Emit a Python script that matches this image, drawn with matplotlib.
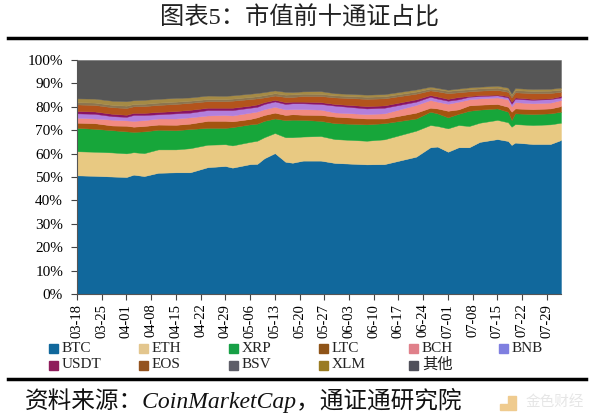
import numpy as np
import matplotlib

matplotlib.use("Agg")
import matplotlib.pyplot as plt
from matplotlib.lines import Line2D
from matplotlib.patches import Rectangle

plt.rcParams["font.family"] = ["Liberation Serif", "Noto Sans CJK SC"]

tick_labels = ["03-18", "03-25", "04-01", "04-08", "04-15", "04-22", "04-29",
               "05-06", "05-13", "05-20", "05-27", "06-03", "06-10", "06-17",
               "06-24", "07-01", "07-08", "07-15", "07-22", "07-29"]

# days since 03-18
days = [0, 5, 10, 14, 16, 19, 23, 28, 32, 37, 42, 44, 49, 51, 53, 56, 59, 61, 64,
        69, 73, 82, 87, 96, 100, 102, 105, 108, 111, 114, 119, 122, 123, 124, 129, 134, 137]

# top edge of each band in %
btc = [50.7, 50.5, 50.2, 50.0, 51.0, 50.4, 51.8, 52.0, 52.0, 54.2, 54.7, 54.0, 55.5, 55.6, 58.0, 60.2, 56.5, 56.1, 57.0,
       57.0, 56.0, 55.4, 55.5, 58.7, 62.7, 63.0, 60.8, 62.7, 62.7, 65.0, 66.2, 65.4, 63.7, 64.7, 64.1, 64.1, 65.8]
eth = [61.0, 60.8, 60.5, 60.1, 60.6, 60.2, 61.8, 61.8, 62.3, 63.8, 64.0, 63.5, 65.0, 65.5, 67.0, 68.8, 67.0, 67.0, 67.3,
       67.5, 66.2, 65.5, 66.1, 69.8, 72.2, 71.8, 70.8, 72.2, 71.8, 73.2, 74.4, 73.4, 71.5, 72.6, 72.2, 72.5, 73.2]
xrp = [71.0, 70.6, 70.0, 69.5, 69.3, 69.5, 70.2, 70.0, 70.5, 71.0, 71.0, 71.3, 72.5, 72.8, 74.0, 75.0, 74.3, 74.5, 74.4,
       74.0, 73.0, 72.5, 73.0, 75.0, 77.9, 77.2, 75.5, 77.0, 78.3, 78.8, 79.3, 77.9, 74.4, 77.2, 76.9, 77.2, 77.9]
ltc = [73.2, 73.0, 72.0, 71.9, 71.5, 71.8, 72.4, 72.3, 72.8, 74.0, 74.0, 73.8, 74.8, 75.5, 76.5, 77.5, 76.5, 76.8, 76.6,
       76.5, 75.8, 75.0, 75.0, 77.5, 79.6, 79.3, 78.3, 78.9, 80.6, 80.9, 81.2, 80.0, 77.9, 79.3, 79.0, 79.3, 80.3]
bch = [75.3, 75.0, 74.5, 74.2, 74.0, 74.3, 75.0, 75.0, 75.5, 76.3, 76.5, 76.3, 77.5, 78.0, 79.0, 80.0, 78.9, 79.0, 79.0,
       78.8, 77.6, 76.9, 77.2, 80.8, 82.9, 82.2, 81.3, 82.2, 83.2, 83.6, 84.0, 83.2, 80.2, 82.0, 81.5, 81.8, 82.9]
bnb = [77.2, 77.0, 76.0, 75.7, 76.5, 76.5, 76.8, 77.2, 77.5, 78.6, 78.6, 78.6, 79.6, 80.0, 81.2, 82.3, 81.2, 81.5, 81.5,
       81.2, 80.5, 79.3, 79.6, 82.2, 84.3, 83.5, 82.6, 83.2, 84.3, 84.6, 84.9, 84.0, 81.3, 83.4, 83.0, 83.3, 84.0]
usdt = [78.2, 78.0, 77.0, 76.6, 77.4, 77.4, 77.8, 78.2, 78.7, 79.6, 79.6, 79.6, 80.5, 81.0, 82.0, 83.0, 82.0, 82.2, 82.2,
        82.0, 81.2, 80.3, 80.6, 83.2, 85.0, 84.4, 83.4, 84.2, 84.6, 85.0, 85.2, 84.6, 82.2, 84.0, 83.4, 83.6, 84.6]
eos = [81.0, 80.8, 79.8, 79.5, 80.2, 80.3, 80.8, 81.2, 81.7, 82.4, 82.4, 82.6, 83.3, 83.6, 84.0, 84.8, 84.2, 84.2, 84.6,
       84.6, 84.0, 83.4, 83.6, 85.6, 87.0, 86.6, 85.8, 86.2, 86.6, 86.9, 87.2, 86.4, 84.0, 86.2, 85.8, 85.9, 86.4]
bsv = [82.0, 81.8, 80.8, 80.5, 81.2, 81.3, 81.8, 82.2, 82.6, 83.3, 83.3, 83.5, 84.2, 84.5, 85.0, 85.8, 85.2, 85.3, 85.6,
       85.5, 84.9, 84.3, 84.5, 86.5, 87.8, 87.5, 86.8, 87.2, 87.5, 87.9, 88.2, 87.3, 85.0, 87.1, 86.8, 86.9, 87.3]
xlm = [83.6, 83.5, 82.6, 82.4, 82.8, 83.0, 83.4, 83.8, 84.0, 84.8, 84.7, 84.9, 85.6, 85.9, 86.3, 87.0, 86.4, 86.3, 86.6,
       86.7, 85.8, 85.2, 85.4, 87.4, 88.6, 88.1, 87.3, 87.8, 88.3, 88.6, 89.0, 88.2, 85.6, 88.0, 87.6, 87.7, 88.2]
other = [100.0] * len(days)

names = ["BTC", "ETH", "XRP", "LTC", "BCH", "BNB", "USDT", "EOS", "BSV", "XLM", "其他"]
tops = [btc, eth, xrp, ltc, bch, bnb, usdt, eos, bsv, xlm, other]
band_colors = ["#11689c", "#e8c982", "#17a63a", "#a4540f", "#f28a80", "#b27fdc",
               "#8a1465", "#b3541c", "#8c7550", "#a58a45", "#565656"]
legend_colors = ["#11689c", "#e3c68e", "#17a046", "#8f5418", "#e0808a", "#7f7fe0",
                 "#8f1d5c", "#94531f", "#5e5e68", "#9a7c22", "#50505a"]

fig = plt.figure(figsize=(6, 4.17), dpi=100)
W, H = 600, 417
ax = fig.add_axes([77 / W, 1 - 294 / H, (561 - 77) / W, (294 - 60) / H])

lower = np.zeros(len(days))
for top, color in zip(tops, band_colors):
    ax.fill_between(days, lower, top, color=color, linewidth=0.3)
    lower = np.array(top)

ax.set_xlim(0, 137)
ax.set_ylim(0, 100)
ax.set_yticks(range(0, 101, 10))
ax.set_yticklabels([f"{v}%" for v in range(0, 101, 10)], fontsize=11)
ax.set_xticks(range(0, 7 * len(tick_labels), 7))
ax.set_xticklabels(tick_labels, rotation=90, fontsize=10.5)
ax.tick_params(axis="both", length=4, width=0.8, color="#444444")
ax.tick_params(axis="y", pad=6)
ax.tick_params(axis="x", pad=3)
for name in ["top", "right"]:
    ax.spines[name].set_visible(False)
for name in ["left", "bottom"]:
    ax.spines[name].set_color("#555555")
    ax.spines[name].set_linewidth(0.8)

# legend laid out by hand on a 90 px grid, two rows
for i, (name, color) in enumerate(zip(names, legend_colors)):
    col = i if i < 6 else i - 6
    x = 49 + 90 * col
    y = 348.5 if i < 6 else 365
    fig.add_artist(Rectangle((x / W, 1 - (y + 4.5) / H), 9 / W, 9 / H, color=color,
                             transform=fig.transFigure))
    fig.text((x + 13) / W, 1 - y / H, name, ha="left", va="center", fontsize=11, color="#222222")

fig.add_artist(Line2D([8 / W, 586 / W], [1 - 38 / H] * 2, color="black", lw=2.5))
fig.add_artist(Line2D([8 / W, 586 / W], [1 - 379 / H] * 2, color="black", lw=2.5))

fig.text(0.5, 1 - 18 / H, "图表5：市值前十通证占比", ha="center", va="center", fontsize=17.5,
         color="#222222")
fig.text(25 / W, 1 - 400 / H, "资料来源：CoinMarketCap，通证通研究院", ha="left", va="center",
         fontsize=17, style="italic", color="#111111")

# faint site mark in the bottom corner
fig.add_artist(Rectangle((508 / W, 1 - 410 / H), 8 / W, 14 / H, color="#efcb8f",
                         transform=fig.transFigure))
fig.add_artist(Rectangle((500 / W, 1 - 410 / H), 8 / W, 6 / H, color="#efcb8f",
                         transform=fig.transFigure))
fig.text(526 / W, 1 - 402 / H, "金色财经", ha="left", va="center", fontsize=10.5, color="#e6e6e6",
         family=["Noto Sans CJK SC"])

fig.savefig("out.png", dpi=100)
